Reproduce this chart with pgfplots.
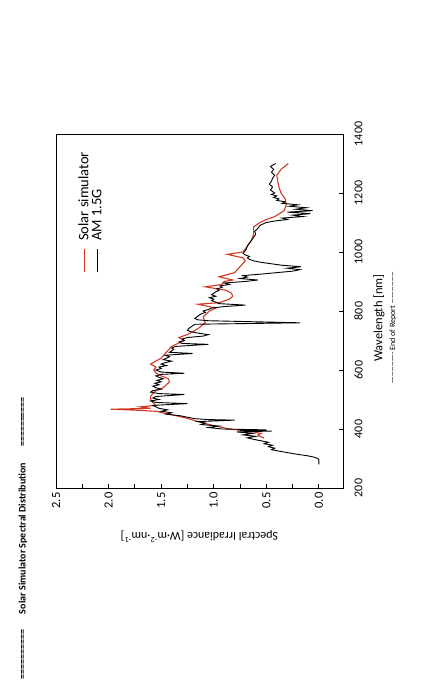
\documentclass[border=0pt]{standalone}
\usepackage{pgfplots}
\pgfplotsset{compat=1.18}
\usepackage{pgfplotstable}
\usepackage{fontspec}
\setmainfont{Carlito}
\definecolor{simred}{RGB}{208,58,36}
\newcommand\hy{-\kern0pt}
\pgfplotstableread{
x y
280 0.0
290 0.0
295 0.0
300 0.01
305 0.05
310 0.12
315 0.22
320 0.30
325 0.38
330 0.45
335 0.42
340 0.48
345 0.44
350 0.52
355 0.48
360 0.55
365 0.62
370 0.68
375 0.60
380 0.72
385 0.63
390 0.78
393 0.45
395 0.75
397 0.50
400 0.92
405 1.05
410 0.95
415 1.12
420 1.08
425 1.15
430 0.80
432 1.05
435 1.18
440 1.25
445 1.32
450 1.45
455 1.40
460 1.50
465 1.44
470 1.52
475 1.55
480 1.58
486 1.25
490 1.55
495 1.60
500 1.52
505 1.58
510 1.55
517 1.28
520 1.52
525 1.60
530 1.58
535 1.50
540 1.55
545 1.58
550 1.52
555 1.56
560 1.50
565 1.54
570 1.48
575 1.52
580 1.55
585 1.50
589 1.28
593 1.50
600 1.55
605 1.50
610 1.52
615 1.45
620 1.50
625 1.46
630 1.40
635 1.48
640 1.45
645 1.42
650 1.46
656 1.20
660 1.42
665 1.40
670 1.38
675 1.40
680 1.36
687 1.05
690 1.30
695 1.33
700 1.28
705 1.30
710 1.25
715 1.10
720 1.05
725 1.15
730 1.22
735 1.25
740 1.24
745 1.22
750 1.20
755 1.18
760 0.18
763 0.55
767 1.05
770 1.15
775 1.18
780 1.16
785 1.14
790 1.12
795 1.08
800 1.10
805 1.05
810 1.02
815 0.90
820 0.70
825 0.95
830 0.98
835 1.02
840 1.00
845 1.04
850 0.98
855 1.02
860 1.00
865 0.98
870 0.95
875 0.97
880 0.92
885 0.94
890 0.85
895 0.90
900 0.70
905 0.58
910 0.75
915 0.68
920 0.72
925 0.55
930 0.40
935 0.25
940 0.18
945 0.30
950 0.17
955 0.35
960 0.45
965 0.55
970 0.62
975 0.66
980 0.68
985 0.66
990 0.70
995 0.72
1000 0.71
1010 0.69
1020 0.68
1030 0.66
1040 0.64
1050 0.62
1060 0.60
1070 0.61
1080 0.58
1090 0.56
1100 0.50
1105 0.42
1110 0.30
1115 0.35
1120 0.15
1125 0.25
1130 0.08
1135 0.30
1140 0.06
1145 0.22
1150 0.12
1155 0.28
1160 0.20
1165 0.35
1170 0.32
1175 0.40
1180 0.38
1185 0.43
1190 0.40
1195 0.45
1200 0.42
1210 0.46
1220 0.44
1230 0.47
1240 0.45
1250 0.44
1260 0.42
1270 0.45
1280 0.43
1290 0.46
1300 0.41
}\amdata
\pgfplotstableread{
x y
370 0.52
375 0.56
380 0.58
385 0.55
390 0.62
400 0.85
410 0.98
420 1.10
437 1.26
450 1.42
460 1.55
464 1.75
467 1.98
470 1.60
475 1.70
480 1.55
490 1.58
500 1.60
510 1.60
520 1.58
530 1.55
540 1.48
550 1.45
560 1.42
570 1.43
580 1.50
590 1.55
600 1.57
610 1.55
620 1.60
630 1.55
640 1.50
660 1.45
680 1.40
700 1.28
710 1.33
720 1.25
740 1.15
760 1.08
780 1.10
800 1.04
810 0.98
823 1.15
828 0.95
840 0.85
850 0.82
860 0.83
870 0.88
882 1.08
890 0.92
900 0.90
905 0.82
916 0.95
930 0.80
950 0.75
970 0.70
980 0.72
992 0.87
1000 0.72
1020 0.68
1040 0.64
1060 0.62
1085 0.62
1100 0.56
1110 0.50
1120 0.42
1140 0.33
1160 0.31
1180 0.32
1200 0.36
1220 0.38
1240 0.39
1260 0.40
1280 0.36
1300 0.29
}\simdata
\begin{document}
\begin{tikzpicture}[rotate=90, transform shape]
\path[use as bounding box] (0pt,0pt) rectangle (684pt,427pt);
\node[font=\bfseries\fontsize{10}{12}\selectfont, anchor=west, inner sep=0pt] at (4pt,404pt)
  {==========\hspace{16pt}Solar Simulator Spectral Distribution\hspace{16pt}==========};
\begin{axis}[
  at={(196pt,84pt)}, anchor=south west,
  width=354pt, height=287pt, scale only axis,
  xmin=200, xmax=1400, ymin=-0.23, ymax=2.5,
  xtick={200,400,...,1400},
  ytick={0,0.5,...,2.5},
  minor y tick num=1,
  xtick pos=left, ytick pos=left,
  tick align=inside,
  major tick length=4pt, minor tick length=4pt,
  tick style={black, line width=0.7pt},
  axis line style={line width=0.9pt},
  /pgf/number format/assume math mode=true,
  xticklabel style={/pgf/number format/1000 sep={}, font=\fontsize{12}{14}\selectfont},
  yticklabel style={/pgf/number format/.cd, fixed, fixed zerofill, precision=1, /tikz/.cd, font=\fontsize{12.5}{14}\selectfont},
  xticklabel shift=8pt,
  yticklabel shift=1pt,
  xlabel={Wavelength [nm]},
  ylabel={Spectral Irradiance [W·m\textsuperscript{-2}·nm\textsuperscript{-1}]},
  xlabel style={font=\fontsize{12.5}{14}\selectfont, at={(axis description cs:0.48,-0.125)}, anchor=center},
  ylabel style={font=\fontsize{12}{14}\selectfont, at={(axis description cs:-0.137,0.5)}, anchor=center},
  legend style={draw=none, fill=none, at={(0.955,0.93)}, anchor=north east,
    font=\fontsize{14.5}{17}\selectfont, row sep=-2pt, column sep=6pt, inner sep=0pt},
  legend cell align=left,
  legend image code/.code={\draw[#1] (0pt,0pt) -- (23pt,0pt);},
]
\addplot[simred, line width=1.1pt] table[x=x, y=y] {\simdata};
\addlegendentry{Solar simulator}
\addplot[black, line width=0.9pt] table[x=x, y=y] {\amdata};
\addlegendentry{AM 1.5G}
\end{axis}
\node[font=\fontsize{8}{9}\selectfont] at (356pt,34pt)
  {\hy\hy\hy\hy\hy\hy\hy\hy\hy\hy\hy\hy\hy\ End of Report \hy\hy\hy\hy\hy\hy\hy\hy\hy\hy\hy\hy\hy};
\end{tikzpicture}
\end{document}
